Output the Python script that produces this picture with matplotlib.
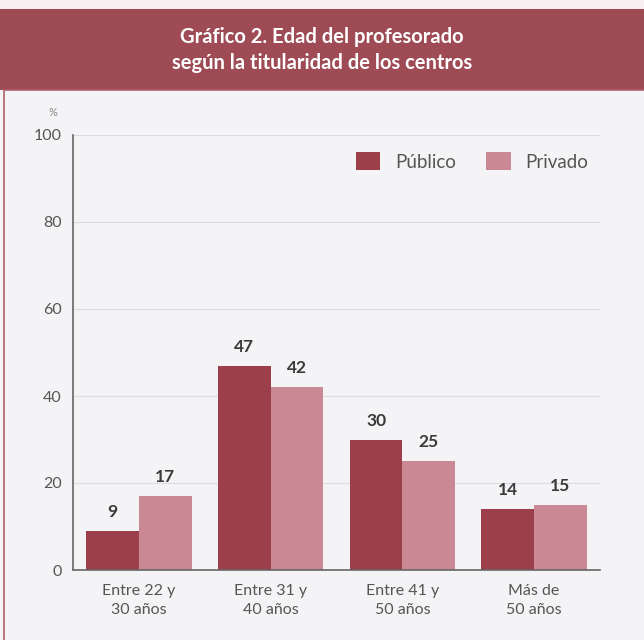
import matplotlib.pyplot as plt
import numpy as np
from matplotlib.patches import Rectangle

plt.rcParams['font.family'] = ['Lato', 'DejaVu Sans']

# Data
categories = ['Entre 22 y\n30 años', 'Entre 31 y\n40 años', 'Entre 41 y\n50 años', 'Más de\n50 años']
publico = [9, 47, 30, 14]
privado = [17, 42, 25, 15]

dark = '#9c3f4a'
light = '#c98893'
bg = '#f4f4f6'
txt = '#555555'

fig = plt.figure(figsize=(6.44, 6.4), dpi=100)
fig.patch.set_facecolor(bg)

# title banner and frame
fig.add_artist(Rectangle((0, 1 - 90/640), 1, 81/640, transform=fig.transFigure,
                         facecolor='#9e4b55', edgecolor='none'))
fig.add_artist(Rectangle((0, 1 - 9/640), 1, 9/640, transform=fig.transFigure,
                         facecolor='#f6eef0', edgecolor='none'))
fig.add_artist(Rectangle((4/644, -0.01), 1.1, 1 - 90/640 + 0.01, transform=fig.transFigure,
                         facecolor='none', edgecolor='#b0606a', linewidth=1.2))
fig.text(0.5, 1 - 50/640, 'Gráfico 2. Edad del profesorado\nsegún la titularidad de los centros',
         ha='center', va='center', color='white', fontsize=14.5, fontweight='bold',
         linespacing=1.4)

ax = fig.add_axes([73/644, 1 - 570/640, (600 - 73)/644, (570 - 135)/640])
ax.set_facecolor(bg)

x = np.arange(len(categories))
w = 0.4
b1 = ax.bar(x - w/2, publico, w, color=dark, label='Público')
b2 = ax.bar(x + w/2, privado, w, color=light, label='Privado')

for bars in (b1, b2):
    for r in bars:
        ax.text(r.get_x() + r.get_width()/2, r.get_height() + 2.5, f'{r.get_height():.0f}',
                ha='center', va='bottom', fontsize=12.5, fontweight='bold', color='#3a3a3a')

ax.set_xlim(-0.5, 3.5)
ax.set_ylim(0, 100)
ax.set_yticks([0, 20, 40, 60, 80, 100])
ax.set_xticks(x)
ax.set_xticklabels(categories, linespacing=1.45)
ax.tick_params(axis='both', length=0, colors=txt)
ax.tick_params(axis='x', pad=10, labelsize=11.5)
ax.tick_params(axis='y', pad=8, labelsize=11.5)
ax.grid(axis='y', color='#dcdce0', linewidth=0.8)
ax.set_axisbelow(True)
for s in ['top', 'right']:
    ax.spines[s].set_visible(False)
for s in ['left', 'bottom']:
    ax.spines[s].set_color('#666666')
    ax.spines[s].set_linewidth(1.2)

ax.text(-0.03, 1.04, '%', transform=ax.transAxes, ha='right', va='bottom',
        fontsize=8, color='#888888')

leg = ax.legend(loc='upper right', bbox_to_anchor=(1.01, 1.0), ncol=2, frameon=False,
                fontsize=13.5, handlelength=1.3, handleheight=1.15, columnspacing=1.6,
                handletextpad=0.8)
for t in leg.get_texts():
    t.set_color(txt)

fig.savefig('out.png', dpi=100, facecolor=bg)
